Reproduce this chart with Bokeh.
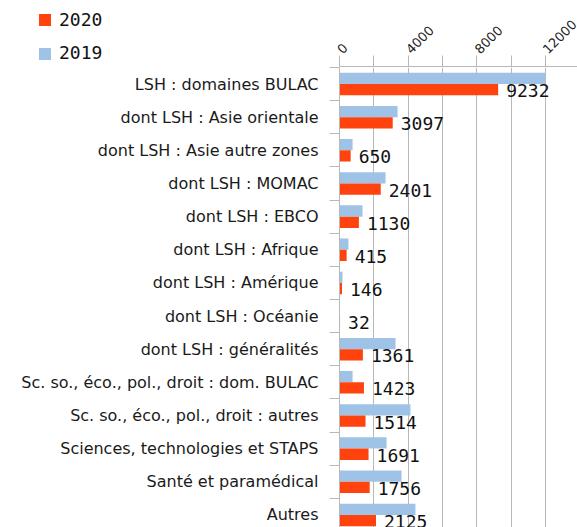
import math
from bokeh.plotting import figure
from bokeh.layouts import column, row
from bokeh.models import (ColumnDataSource, Range1d, FixedTicker, Grid, Div)
from bokeh.core.properties import value
from bokeh.embed import file_html
from bokeh.resources import INLINE

categories = [
    "LSH : domaines BULAC",
    "dont LSH : Asie orientale",
    "dont LSH : Asie autre zones",
    "dont LSH : MOMAC",
    "dont LSH : EBCO",
    "dont LSH : Afrique",
    "dont LSH : Amérique",
    "dont LSH : Océanie",
    "dont LSH : généralités",
    "Sc. so., éco., pol., droit : dom. BULAC",
    "Sc. so., éco., pol., droit : autres",
    "Sciences, technologies et STAPS",
    "Santé et paramédical",
    "Autres",
]
values_2020 = [9232, 3097, 650, 2401, 1130, 415, 146, 32, 1361, 1423, 1514, 1691, 1756, 2125]
values_2019 = [11990, 3380, 760, 2680, 1340, 520, 175, 25, 3260, 760, 4130, 2740, 3610, 4420]
series_names = ["2020", "2019"]
x_ticks = [0, 2000, 4000, 6000, 8000, 10000, 12000]
x_tick_labels = {0: "0", 2000: "", 4000: "4000", 6000: "", 8000: "8000", 10000: "", 12000: "12000"}

RED = "#ff420e"
BLUE = "#9fc3e7"
GRID = "#b8b8b8"
LEFT = 339
TOP = 66
W, H = 577, 527

x_range = Range1d(0, 13850)

# ---------- legend (top-left), an HTML block ----------
LEG_W = LEFT - 4
series_colors = [RED, BLUE]
items_html = ""
for k, (name, col) in enumerate(zip(series_names, series_colors)):
    items_html += (
        f'<div style="position:absolute;left:39px;top:{14 + 34 * k}px;width:12px;'
        f'height:12px;background:{col};"></div>'
        f'<div style="position:absolute;left:59px;top:{10 + 33 * k}px;line-height:20px;'
        f'font-family:\'DejaVu Sans Mono\';font-size:18px;color:#111111;">{name}</div>'
    )
leg = Div(text=f'<div style="position:relative;width:{LEG_W}px;height:{TOP + 1}px;">'
               f'{items_html}</div>',
          width=LEG_W, height=TOP + 1, margin=(0, 0, 0, 0))

# ---------- axis strip (top-right) ----------
top = figure(width=W - LEFT + 4, height=TOP + 1, output_backend="svg", toolbar_location=None,
             x_range=x_range, y_range=Range1d(0, 1),
             x_axis_location="above", y_axis_location=None,
             min_border_left=4, min_border_right=0,
             min_border_top=TOP, min_border_bottom=0)
top.outline_line_color = None
top.xgrid.grid_line_color = None
top.ygrid.grid_line_color = None

xa = top.xaxis[0]
xa.ticker = FixedTicker(ticks=x_ticks, minor_ticks=[])
xa.major_label_overrides = dict(x_tick_labels)
xa.major_label_orientation = math.pi / 4
xa.major_label_text_font = "DejaVu Sans"
xa.major_label_text_font_size = "13px"
xa.major_label_text_color = "#222222"
xa.major_label_standoff = 4
xa.axis_line_color = GRID
xa.major_tick_line_color = GRID
xa.major_tick_out = 11
xa.major_tick_in = 0
xa.minor_tick_line_color = None

# ---------- main plot ----------
idx = list(range(len(categories)))
src = ColumnDataSource(dict(
    y19=[i - 0.17 for i in idx],
    y20=[i + 0.17 for i in idx],
    v19=values_2019,
    v20=values_2020,
    lab=[str(v) for v in values_2020],
))

p = figure(width=W, height=H - TOP - 1, output_backend="svg", toolbar_location=None,
           x_range=x_range, y_range=Range1d(13.38, -0.5),
           x_axis_location=None, min_border_left=LEFT, min_border_right=0,
           min_border_top=0, min_border_bottom=0)
p.outline_line_color = None
for g in list(p.center):
    if isinstance(g, Grid):
        p.center.remove(g)
p.add_layout(Grid(dimension=0, ticker=FixedTicker(ticks=x_ticks), grid_line_color=GRID))

p.hbar(y="y19", right="v19", left=0, height=0.34, source=src,
       fill_color=BLUE, line_color=None)
p.hbar(y="y20", right="v20", left=0, height=0.34, source=src,
       fill_color=RED, line_color=None)

p.text(x="v20", y="y20", text="lab", source=src, x_offset=8, y_offset=1,
       text_baseline="middle", text_align="left", text_font_size="18px",
       text_font=value("DejaVu Sans Mono"), text_color="#111111")

ya = p.yaxis[0]
ya.ticker = FixedTicker(ticks=idx, minor_ticks=[i + 0.5 for i in range(-1, len(categories))])
ya.major_label_overrides = {i: c for i, c in enumerate(categories)}
ya.major_label_text_font = "DejaVu Sans"
ya.major_label_text_font_size = "16px"
ya.major_label_text_color = "#1a1a1a"
ya.major_tick_line_color = None
ya.major_tick_out = 0
ya.major_tick_in = 0
ya.minor_tick_out = 10
ya.minor_tick_in = 0
ya.minor_tick_line_color = GRID
ya.axis_line_color = GRID
ya.major_label_standoff = 11

layout = column(row(leg, top, spacing=0), p, spacing=0)
open("out.html", "w").write(file_html(layout, INLINE))
